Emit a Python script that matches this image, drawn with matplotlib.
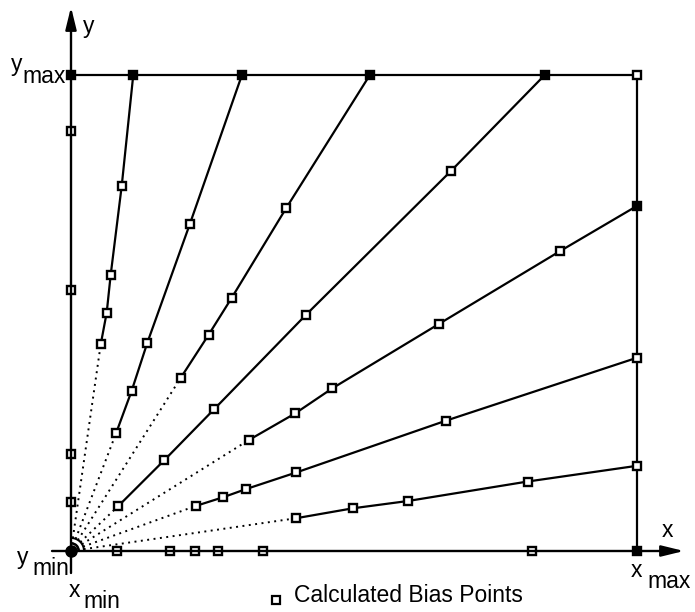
import matplotlib
matplotlib.use('Agg')
import matplotlib.pyplot as plt
from matplotlib.patches import Arc

plt.rcParams['font.family'] = ['Liberation Sans', 'DejaVu Sans']

# ---- data (normalised: x_min = y_min = 0, x_max = y_max = 1) ----
ray_b_x = [0.0525, 0.0631, 0.0701, 0.0896, 0.110]
ray_b_y = [0.434, 0.501, 0.580, 0.767, 1.0]
ray_c_x = [0.0795, 0.107, 0.135, 0.210, 0.302]
ray_c_y = [0.247, 0.336, 0.438, 0.687, 1.0]
ray_d_x = [0.194, 0.243, 0.284, 0.380, 0.528]
ray_d_y = [0.364, 0.454, 0.532, 0.720, 1.0]
ray_e_x = [0.0836, 0.165, 0.253, 0.415, 0.671, 0.837]
ray_e_y = [0.0945, 0.191, 0.298, 0.496, 0.798, 1.0]
ray_f_x = [0.314, 0.396, 0.462, 0.650, 0.864, 1.0]
ray_f_y = [0.233, 0.289, 0.342, 0.477, 0.630, 0.725]
ray_g_x = [0.220, 0.269, 0.309, 0.398, 0.663, 1.0]
ray_g_y = [0.0945, 0.113, 0.130, 0.165, 0.274, 0.406]
ray_h_x = [0.397, 0.498, 0.595, 0.807, 1.0]
ray_h_y = [0.0687, 0.0897, 0.105, 0.146, 0.179]
ray_end_filled = [True, True, True, True, True, False, False]

yaxis_pts_y = [0.103, 0.204, 0.548, 0.882]
xaxis_pts_x = [0.0818, 0.175, 0.219, 0.260, 0.340, 0.814]

corner_x = [0.0, 0.0, 1.0, 1.0]
corner_y = [0.0, 1.0, 1.0, 0.0]
corner_filled = [True, True, False, True]

legend_label = "Calculated Bias Points"

# ---- layout ----
W, H = 695, 612
X0, X1 = 71, 637     # pixel of x_min, x_max
Y0, Y1 = 551, 75     # pixel of y_min, y_max
sx = X1 - X0
sy = Y0 - Y1

fig = plt.figure(figsize=(W / 100, H / 100), dpi=100)
ax = fig.add_axes([0, 0, 1, 1])
ax.set_xlim(-X0 / sx, (W - X0) / sx)
ax.set_ylim(-(H - Y0) / sy, Y0 / sy)
ax.axis('off')

lw = 1.6
# axes with arrows
ax.annotate('', xy=(0, (Y0 - 7) / sy), xytext=(0, -(573 - Y0) / sy),
            arrowprops=dict(arrowstyle='-|>,head_length=0.9,head_width=0.22',
                            lw=1.7, color='k', mutation_scale=15,
                            shrinkA=0, shrinkB=0))
ax.annotate('', xy=((684 - X0) / sx, 0), xytext=(-(X0 - 52) / sx, 0),
            arrowprops=dict(arrowstyle='-|>,head_length=0.9,head_width=0.22',
                            lw=1.7, color='k', mutation_scale=15,
                            shrinkA=0, shrinkB=0))
# boundary of region
ax.plot([0, 1, 1], [1, 1, 0], color='k', lw=lw, solid_capstyle='butt')

ms = 6.0
mew = 1.7
rays = [(ray_b_x, ray_b_y), (ray_c_x, ray_c_y), (ray_d_x, ray_d_y),
        (ray_e_x, ray_e_y), (ray_f_x, ray_f_y), (ray_g_x, ray_g_y),
        (ray_h_x, ray_h_y)]
for (rx, ry), filled in zip(rays, ray_end_filled):
    ax.plot([0, rx[0]], [0, ry[0]], color='k', lw=1.4,
            linestyle=(0, (1, 2.3)))
    ax.plot(rx, ry, color='k', lw=lw)
    ax.plot(rx[:-1], ry[:-1], ls='none', marker='s', ms=ms, mfc='white',
            mec='k', mew=mew)
    ax.plot(rx[-1:], ry[-1:], ls='none', marker='s', ms=ms,
            mfc='k' if filled else 'white', mec='k', mew=mew)

ax.plot([0] * len(yaxis_pts_y), yaxis_pts_y, ls='none', marker='s', ms=ms,
        mfc='white', mec='k', mew=mew)
ax.plot(xaxis_pts_x, [0] * len(xaxis_pts_x), ls='none', marker='s', ms=ms,
        mfc='white', mec='k', mew=mew)
for cx, cy, f in zip(corner_x, corner_y, corner_filled):
    if cx == 0 and cy == 0:
        ax.plot([cx], [cy], ls='none', marker='o', ms=8, mfc='k', mec='k')
    else:
        ax.plot([cx], [cy], ls='none', marker='s', ms=ms,
                mfc='k' if f else 'white', mec='k', mew=mew)

# angle arcs at origin
for r in (8, 13):
    ax.add_patch(Arc((0, 0), 2 * r / sx, 2 * r / sy, theta1=3, theta2=87,
                     lw=1.4, color='k'))

# ---- labels (pixel positions) ----
fs = 16.5


def ptext(x, y, s, **kw):
    fig.text(x / W, 1 - y / H, s, fontsize=kw.pop('fontsize', fs),
             va='baseline', ha='left', **kw)


ptext(83, 33, 'y')
ptext(11, 71, 'y')
ptext(22, 83, 'max')
ptext(17, 564, 'y')
ptext(32, 575, 'min')
ptext(69, 597, 'x')
ptext(83, 608, 'min')
ptext(662, 537, 'x')
ptext(631, 577, 'x')
ptext(647, 588, 'max')

fig.lines.append(plt.Line2D([276 / W], [1 - 600 / H], transform=fig.transFigure,
                            marker='s', ms=5.5, mfc='white', mec='k', mew=1.6,
                            ls='none'))
ptext(294, 602, legend_label)

fig.savefig('out.png', dpi=100)
